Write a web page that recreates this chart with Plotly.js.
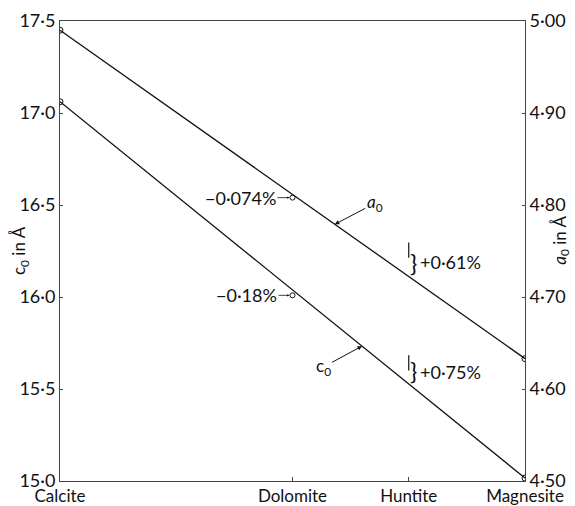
<!DOCTYPE html>
<html><head><meta charset="utf-8">
<script src="https://cdn.plot.ly/plotly-3.0.1.min.js"></script>
<style>html,body{margin:0;padding:0;background:#fff}#chart{width:575px;height:506px}</style>
</head><body><div id="chart"></div>
<script>
// Composition axis: fraction of Mg sites (Calcite 0, Dolomite 0.5, Huntite 0.75, Magnesite 1)
const minerals = ["Calcite", "Dolomite", "Huntite", "Magnesite"];
const mgFraction = [0, 0.5, 0.75, 1];

// End-member lines (Vegard)
const lineX = [0, 1];
const a0Line = [4.990, 4.633];   // Å, right axis
const c0Line = [17.061, 15.016]; // Å, left axis

// Dolomite measured values
const dolX = [0.5];
const a0Dol = [4.808];
const c0Dol = [16.009];

// Huntite values
const hunX = [0.75];
const a0Hun = [4.751];
const c0Hun = [15.642];

const leftTicks = [15.0, 15.5, 16.0, 16.5, 17.0, 17.5];
const leftTickText = ["15·0", "15·5", "16·0", "16·5", "17·0", "17·5"];
const rightTicks = [4.50, 4.60, 4.70, 4.80, 4.90, 5.00];
const rightTickText = ["4·50", "4·60", "4·70", "4·80", "4·90", "5·00"];

const FONT = "Lato, 'Open Sans', sans-serif";
const ink = "#111";

const traces = [
  {x: lineX, y: c0Line, yaxis: "y", mode: "lines+markers", line: {color: ink, width: 1.3},
   marker: {symbol: "circle-open", size: 6, color: ink, line: {width: 1}}, hoverinfo: "skip"},
  {x: lineX, y: a0Line, yaxis: "y2", mode: "lines+markers", line: {color: ink, width: 1.3},
   marker: {symbol: "circle-open", size: 6, color: ink, line: {width: 1}}, hoverinfo: "skip"},
  {x: dolX, y: c0Dol, yaxis: "y", mode: "markers",
   marker: {symbol: "circle-open", size: 5, color: ink, line: {width: 1}}},
  {x: dolX, y: a0Dol, yaxis: "y2", mode: "markers",
   marker: {symbol: "circle-open", size: 5, color: ink, line: {width: 1}}},
  {x: hunX, y: c0Hun, yaxis: "y", mode: "markers",
   marker: {symbol: "line-ns", size: 11, color: ink, line: {width: 1.2, color: ink}}},
  {x: hunX, y: a0Hun, yaxis: "y2", mode: "markers",
   marker: {symbol: "line-ns", size: 11, color: ink, line: {width: 1.2, color: ink}}}
];

const tf = {family: FONT, size: 18, color: ink};

const layout = {
  width: 575, height: 506,
  margin: {l: 60, r: 50, t: 21, b: 25},
  paper_bgcolor: "#fff", plot_bgcolor: "#fff",
  showlegend: false,
  xaxis: {range: [0, 1], tickvals: mgFraction, ticktext: minerals, ticks: "inside", ticklen: 4,
          tickcolor: "#444", showline: true, linecolor: "#444", linewidth: 1, mirror: true,
          showgrid: false, zeroline: false, tickfont: {family: FONT, size: 17, color: ink}, fixedrange: true},
  yaxis: {range: [15, 17.5], tickvals: leftTicks, ticktext: leftTickText, ticks: "inside", ticklen: 3,
          tickcolor: "#444", showline: true, linecolor: "#444", linewidth: 1,
          showgrid: false, zeroline: false, tickfont: tf},
  yaxis2: {range: [4.5, 5.0], tickvals: rightTicks, ticktext: rightTickText, overlaying: "y", side: "right",
           ticks: "inside", ticklen: 3, tickcolor: "#444", showline: true, linecolor: "#444", linewidth: 1,
           showgrid: false, zeroline: false, tickfont: tf},
  annotations: [
    {xref: "paper", yref: "paper", x: -0.086, y: 0.5, xanchor: "center", yanchor: "middle",
     text: "c<sub>0</sub> in Å", textangle: -90,
     showarrow: false, font: {family: FONT, size: 17, color: ink}},
    {xref: "paper", yref: "paper", x: 1.078, y: 0.523, xanchor: "center", yanchor: "middle",
     text: "<i>a</i><sub>0</sub> in Å", textangle: -90,
     showarrow: false, font: {family: FONT, size: 17, color: ink}},
    // a0 / c0 labels with arrows
    {x: 0.591, y: 4.779, xref: "x", yref: "y2", text: "<i>a</i><sub>0</sub>", showarrow: true,
     ax: 40, ay: -21, arrowhead: 2, arrowsize: 0.9, arrowwidth: 1, arrowcolor: ink,
     font: {family: FONT, size: 17, color: ink}},
    {x: 0.6495, y: 15.733, xref: "x", yref: "y", text: "c<sub>0</sub>", showarrow: true,
     ax: -39, ay: 21, arrowhead: 2, arrowsize: 0.9, arrowwidth: 1, arrowcolor: ink,
     font: {family: FONT, size: 17, color: ink}},
    // Dolomite deviations
    {x: 0.5, y: 4.808, xref: "x", yref: "y2", text: "−0·074%", showarrow: true,
     ax: -52, ay: 0, arrowhead: 2, arrowsize: 0.6, arrowwidth: 0.8, arrowcolor: ink, standoff: 3,
     font: {family: FONT, size: 18, color: ink}},
    {x: 0.5, y: 16.009, xref: "x", yref: "y", text: "−0·18%", showarrow: true,
     ax: -46, ay: 0, arrowhead: 2, arrowsize: 0.6, arrowwidth: 0.8, arrowcolor: ink, standoff: 3,
     font: {family: FONT, size: 18, color: ink}},
    // Huntite braces
    {x: 0.75, y: 4.7377, xref: "x", yref: "y2", text: "}", showarrow: false, xanchor: "left", xshift: -1,
     font: {family: FONT, size: 24, color: ink}},
    {x: 0.75, y: 4.7377, xref: "x", yref: "y2", text: "+0·61%", showarrow: false, xanchor: "left", xshift: 9,
     font: {family: FONT, size: 18, color: ink}},
    {x: 0.75, y: 15.602, xref: "x", yref: "y", text: "}", showarrow: false, xanchor: "left", xshift: -1,
     font: {family: FONT, size: 24, color: ink}},
    {x: 0.75, y: 15.59, xref: "x", yref: "y", text: "+0·75%", showarrow: false, xanchor: "left", xshift: 9,
     font: {family: FONT, size: 18, color: ink}}
  ]
};

Plotly.newPlot("chart", traces, layout, {staticPlot: true, displayModeBar: false});
</script>
</body></html>
